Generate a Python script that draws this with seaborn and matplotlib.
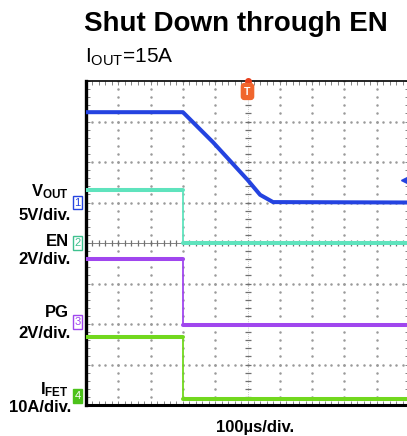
import numpy as np
import matplotlib
matplotlib.use("Agg")
import matplotlib.pyplot as plt
import matplotlib.transforms as mtransforms
from matplotlib.ticker import MultipleLocator
import seaborn as sns

# screen units: x in time divisions (100us/div), y in vertical divisions (0 = bottom)
vout_t = [0.0, 3.0, 3.93, 5.0, 5.39, 5.79, 10.0]
vout_y = [7.23, 7.23, 6.49, 5.56, 5.19, 5.01, 5.0]
en_t = [0.0, 3.0, 3.0, 10.0]
en_y = [5.31, 5.31, 4.0, 4.0]
pg_t = [0.0, 3.0, 3.0, 10.0]
pg_y = [3.6, 3.6, 1.98, 1.98]
ifet_t = [0.0, 3.0, 3.0, 10.0]
ifet_y = [1.68, 1.68, 0.15, 0.15]

channel_names = ['1', '2', '3', '4']
channel_ground = [5.0, 4.0, 2.05, 0.22]
channel_colors = ['#2443e0', '#5fe3bd', '#a046ee', '#72d81e']
marker_colors = ['#2443e0', '#3fc18f', '#a046ee', '#4cc21a']
label_top = [r'$\mathregular{V_{OUT}}$', 'EN', 'PG', r'$\mathregular{I_{FET}}$']
label_scale = ['5V/div.', '2V/div.', '2V/div.', '10A/div.']

sns.set_style('white')
plt.rcParams['font.family'] = ['Liberation Sans', 'DejaVu Sans']
plt.rcParams['text.color'] = 'black'
plt.rcParams['mathtext.fontset'] = 'custom'
plt.rcParams['mathtext.rm'] = 'Liberation Sans'

W, H = 407, 436
fig = plt.figure(figsize=(W / 100, H / 100), dpi=100)
fig.patch.set_facecolor('white')
ax = fig.add_axes([86 / W, 31 / H, 323 / W, 324 / H])
ax.set_xlim(0, 10)
ax.set_ylim(0, 8)

# graticule
grid_col = '#9a9a9a'
fine = np.arange(0, 10.001, 0.2)
for gx in range(1, 10):
    if gx == 5:
        continue
    ax.plot(np.full(41, gx), np.linspace(0, 8, 41), ls='none', marker='.',
            ms=1.6, color=grid_col, zorder=1)
for gy in range(1, 8):
    if gy == 4:
        continue
    ax.plot(fine, np.full(len(fine), gy), ls='none', marker='.',
            ms=1.6, color=grid_col, zorder=1)
# centre cross with ticks
ax.plot([5, 5], [0, 8], color=grid_col, lw=0.5, ls=(0, (1, 2)), zorder=1)
ax.plot(np.full(41, 5), np.linspace(0, 8, 41), ls='none', marker='_',
        ms=4, mew=0.9, color='#707070', zorder=1)
ax.plot([0, 10], [4, 4], color='#707070', lw=0.6, zorder=1)
ax.plot(fine, np.full(len(fine), 4), ls='none', marker='|',
        ms=4, mew=0.9, color='#707070', zorder=1)

# traces: thick flat/ramp parts, thin vertical edges
sns.lineplot(x=vout_t, y=vout_y, ax=ax, color=channel_colors[0], lw=2.9,
             estimator=None, sort=False, zorder=3)
for (t, y), col in zip([(en_t, en_y), (pg_t, pg_y), (ifet_t, ifet_y)], channel_colors[1:]):
    sns.lineplot(x=t[:2], y=y[:2], ax=ax, color=col, lw=2.9, estimator=None,
                 sort=False, zorder=3)
    sns.lineplot(x=t[2:], y=y[2:], ax=ax, color=col, lw=2.9, estimator=None,
                 sort=False, zorder=3)
    ax.plot(t[1:3], y[1:3], color=col, lw=1.3, zorder=3)

# frame and border ticks
ax.set_xticks(range(0, 11))
ax.set_yticks(range(0, 9))
ax.xaxis.set_minor_locator(MultipleLocator(0.2))
ax.yaxis.set_minor_locator(MultipleLocator(0.2))
ax.tick_params(which='both', direction='in', length=3, width=0.6,
               color='#707070', labelbottom=False, labelleft=False,
               top=True, right=True, bottom=True, left=True)
ax.set_xlabel('')
ax.set_ylabel('')
for side, lw in [('left', 2.4), ('bottom', 2.2), ('top', 1.2), ('right', 1.2)]:
    ax.spines[side].set_visible(True)
    ax.spines[side].set_color('black')
    ax.spines[side].set_linewidth(lw)

# trigger marker and level arrow
ax.plot([5], [8], marker='o', ms=4, color='#e8401c', clip_on=False, zorder=5)
ax.text(5, 7.74, 'T', ha='center', va='center', color='white', fontsize=7.5,
        fontweight='bold', zorder=6,
        bbox=dict(boxstyle='round,pad=0.28', fc='#f0662e', ec='#f0662e'))
ax.plot([9.86], [5.56], marker='<', ms=5, color=channel_colors[0], zorder=5)

# channel ground markers
trans = mtransforms.blended_transform_factory(ax.transAxes, ax.transData)
for i, (name, gy, col) in enumerate(zip(channel_names, channel_ground, marker_colors)):
    filled = i == 3
    ax.text(-0.026, gy, name, transform=trans, ha='center', va='center',
            fontsize=8, color='white' if filled else col, clip_on=False,
            bbox=dict(boxstyle='square,pad=0.15', fc=col if filled else 'white',
                      ec=col, lw=1.0))

# left labels (figure pixels)
def ftext(x, y, s, **kw):
    fig.text(x / W, 1 - y / H, s, **kw)

top_y = [196, 246, 317, 394]
scale_y = [220, 264, 338, 412]
for s, y in zip(label_top, top_y):
    ftext(69, y, s, ha='right', va='baseline', fontsize=12, fontweight='bold')
for s, y in zip(label_scale, scale_y):
    ftext(71, y, s, ha='right', va='baseline', fontsize=12, fontweight='bold')

ftext(84, 31, 'Shut Down through EN', ha='left', va='baseline',
      fontsize=20, fontweight='bold')
ftext(85, 63, r'$\mathregular{I_{OUT}}$=15A', ha='left', va='baseline', fontsize=15)
ftext(255, 432, '100\u00b5s/div.', ha='center', va='baseline',
      fontsize=12, fontweight='bold')

fig.savefig('out.png', dpi=100)
